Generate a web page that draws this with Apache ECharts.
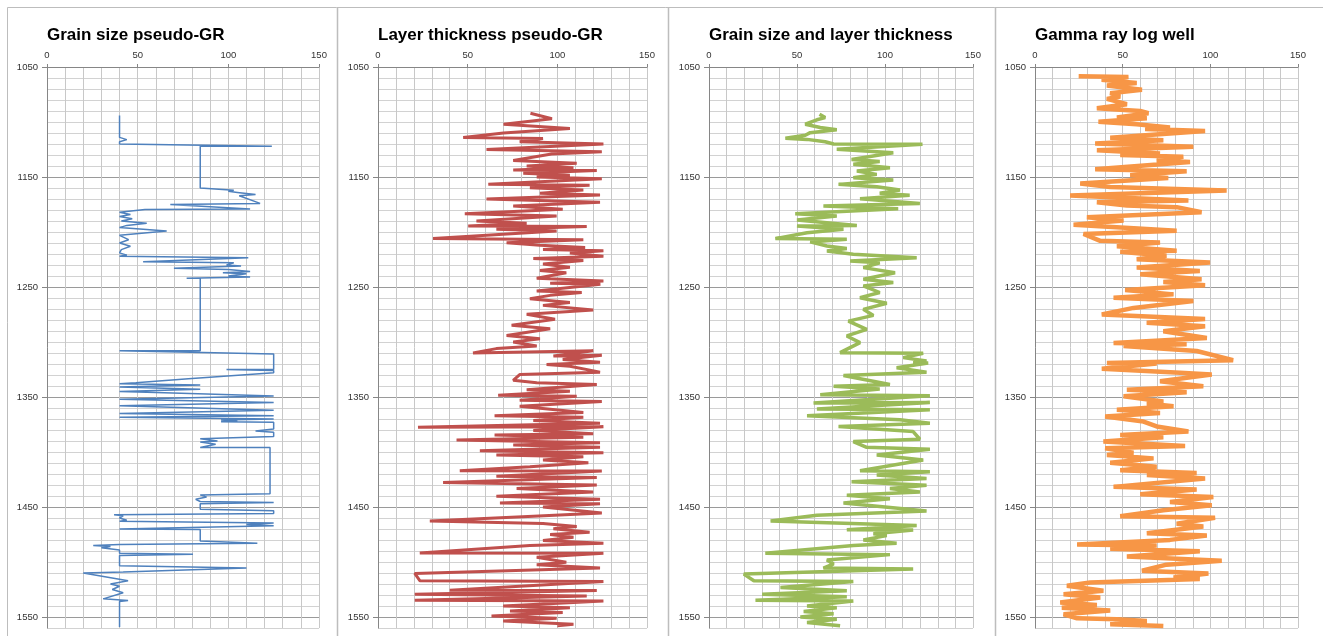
<!DOCTYPE html>
<html><head><meta charset="utf-8">
<script src="https://cdn.jsdelivr.net/npm/echarts@6/dist/echarts.min.js"></script>
<style>html,body{margin:0;padding:0;background:#fff}#c{width:1323px;height:636px}</style>
</head><body><div id="c"></div>
<script>
const panelTitles = ['Grain size pseudo-GR', 'Layer thickness pseudo-GR', 'Grain size and layer thickness', 'Gamma ray log well'];
const xTickLabels = [0, 50, 100, 150];
const depthTickLabels = [1050, 1150, 1250, 1350, 1450, 1550];

// [value, depth]
const grainSizeGR = [
[40,1094],[40,1114],[44,1116],[40,1118],[40,1120],[124,1122],[84.5,1122],[84.5,1160],[103,1162],[100,1163],[105,1164],[115,1166],[106,1167],[117.5,1174],[68,1175],[112,1179],[54,1179.5],[40,1182],[46,1184],[40,1186],[47,1188],[41,1190],[55,1192],[44,1194],[40,1196],[66,1199],[40,1203],[45,1207],[40,1210],[46,1213],[41,1216],[40,1219],[44,1221],[40,1222],[111,1223.5],[53,1227],[103,1228],[99,1230],[107,1231],[70,1233],[100,1234],[112,1236],[97,1237],[110,1238],[100,1240],[112,1241],[77,1242],[84.5,1242],[84.5,1308],[40,1308],[125,1311],[125,1325],[99,1325],[125,1326],[125,1328],[78,1333.5],[49,1337],[40,1338],[84.5,1339],[40,1341],[84.5,1343],[40,1345],[60,1346],[125,1349],[40,1352],[125,1355],[40,1358],[125,1362],[40,1365],[125,1367],[40,1368.5],[125,1370],[96,1371],[105,1372],[96,1372.5],[125,1373],[125,1379],[115,1381],[125,1382],[125,1386],[84.5,1388],[94,1390],[84.5,1391],[93,1393],[84.5,1396],[123,1396],[123,1438],[84.5,1439],[88,1441],[82,1443],[84.5,1445],[125,1446],[84.5,1447],[84.5,1452],[125,1453.5],[125,1456],[37,1457],[42,1458],[40,1460],[44,1462],[40,1463],[125,1464.5],[110,1466],[125,1467],[40,1470],[84.5,1470.5],[84.5,1481],[116,1483],[40,1484],[25.5,1485],[35,1486],[30,1487],[40,1489],[40,1492],[80.5,1493],[40,1494],[40,1503.5],[110,1505.5],[42,1509],[20,1510],[44.7,1517],[35,1520],[40,1522],[36,1525],[42,1528],[31,1533.5],[44.7,1535],[40,1536],[40,1559]
];
const layerThicknessGR = [
[85,1092],[97,1097],[70,1102],[107,1106],[70,1110],[47.5,1114],[92,1115],[79,1118],[125.7,1120],[60.5,1125],[124.8,1127],[96.8,1129],[75.4,1135],[110.8,1137.6],[82.9,1140],[109,1141.5],[75.4,1143.6],[122,1144],[81,1146.7],[107,1148.5],[88.5,1150],[124.8,1151.5],[61.5,1156.7],[118,1157.6],[84.7,1159.7],[114.5,1161.8],[90.3,1164.8],[123.8,1166.4],[60.5,1170],[123.8,1173],[75.4,1176.4],[103,1179.4],[48.4,1183.3],[99.6,1185.5],[54.9,1190],[82.9,1192],[50.3,1194.5],[116.4,1195],[66,1197.6],[99.6,1199],[30.7,1206],[114.5,1207],[71.7,1209.7],[90.3,1212],[115.5,1214],[92,1216],[125.7,1217],[107,1219],[125.7,1222],[86.6,1224],[114.5,1226],[92,1229],[107,1232],[90.3,1235],[105,1237],[88.5,1242],[125.7,1244.5],[96,1246.7],[124,1247.5],[88.5,1253.6],[113.6,1255],[96,1257.6],[84.7,1260.6],[107,1264],[92,1266.7],[120,1271],[82.9,1274.8],[98.7,1279.4],[74.5,1284.8],[96,1287.9],[71.7,1294],[90.3,1297],[75.4,1300],[88.5,1303.6],[66,1306],[53,1310],[120,1308],[97.8,1312.7],[124.8,1312],[103,1316],[123.8,1318.3],[94,1320.4],[107,1322],[123.8,1327.4],[79,1329.6],[75.4,1334.8],[88.5,1337],[122,1338.7],[82.9,1343.3],[107,1344.8],[67,1348.5],[110.8,1349.4],[79,1353],[124.8,1354],[79,1358.5],[114.5,1364],[65,1367],[114.5,1368.3],[86.6,1371.3],[123.8,1373.8],[22.3,1377.4],[125.7,1377],[86.6,1380.5],[120,1383.5],[65,1384.5],[114.5,1386.6],[43.8,1389],[123.8,1391.5],[75.4,1393.6],[123.8,1395.7],[56.8,1398.8],[125.7,1400.6],[66,1402.7],[114.5,1404.3],[92,1407.3],[117.3,1409.8],[84.7,1413.4],[45.6,1417],[124.8,1417.3],[66,1422],[122,1423.2],[36.3,1427.7],[122,1430],[77.3,1433.2],[120,1436.3],[66,1440.2],[123.8,1443],[68,1446.3],[123.8,1447],[92,1450],[124.8,1455.5],[86.6,1458.5],[28.9,1462.8],[92,1465],[110.8,1467.7],[97.8,1469.8],[118,1472.9],[96,1475],[109,1477.4],[92,1480.5],[125.7,1483],[84.7,1485],[23.3,1491.8],[125.7,1492],[88.5,1495.7],[105,1500.3],[88.5,1502.4],[123.8,1505.5],[20.5,1510.4],[23.3,1517],[125.7,1517.7],[40,1525.6],[122,1525.8],[20.5,1529.3],[116.4,1530.8],[20.5,1534.8],[125.7,1535.4],[69.8,1540],[107,1541.5],[73.6,1544.5],[103,1546],[63.3,1549],[99.6,1551.2],[69.8,1553.7],[109,1556.7],[100,1558]
];
const grainAndLayerGR = [
[62.8,1093],[66,1096],[61.3,1098],[54.7,1102],[63.2,1105],[72.6,1107],[57.5,1109.7],[54.7,1112],[43.4,1114.8],[55.7,1115.8],[66,1118],[70.8,1120],[121.3,1120.3],[72.6,1124.8],[104.7,1128],[81,1134],[97,1136],[82,1138.5],[102.8,1141.5],[84,1144.5],[95.3,1147.6],[82,1150.6],[104.7,1152.7],[73.6,1156.7],[95.3,1158.8],[108.5,1161.8],[97,1164.8],[114,1166.7],[85.8,1169.7],[119.8,1174],[65,1176.4],[107.5,1178.8],[49,1183.3],[72.6,1185.5],[50,1189],[84,1194],[50,1194.5],[76.4,1197.6],[55.7,1200.6],[37.7,1206],[78.3,1206.7],[57.5,1209],[67,1212.7],[78.3,1215],[67,1217.3],[82,1220.3],[118,1223.3],[80.2,1226.4],[97,1228],[87.7,1232.4],[105.7,1237],[87.7,1243],[104.7,1246],[87.7,1249],[97,1255],[85.8,1259.7],[101,1264.8],[87.7,1270.3],[93.4,1275.8],[79.2,1281],[89.6,1288.5],[78.3,1294.5],[85.8,1300.6],[74.5,1309.7],[121.7,1310.3],[110.4,1314.2],[123.6,1317.3],[116,1318],[124.5,1319],[106.6,1323.5],[123.6,1327.4],[76.4,1330.5],[102.8,1338.7],[70.8,1340.2],[97,1342.7],[63.2,1347.9],[125.5,1348.8],[59.4,1355.5],[125.5,1355],[61.3,1361],[125.5,1361.6],[55.7,1367],[108.5,1370.7],[125.5,1373.8],[73.6,1376.8],[116,1381.4],[119.8,1388.4],[82,1390.5],[89.6,1395.7],[125.5,1397.6],[95.3,1402.7],[121.7,1407.3],[85.8,1417],[125.5,1418],[95.3,1421],[123.6,1424],[81,1427.1],[123.6,1430.2],[102.8,1433.2],[119.8,1436.3],[78.3,1439.3],[102.8,1442.4],[76.4,1446.3],[123.6,1453.7],[61.3,1457.6],[35,1462.8],[118,1466.8],[78.3,1470.7],[116,1471],[93.4,1474.4],[101,1476],[87.7,1479.9],[106.6,1483],[82,1485],[32,1492],[102.8,1493.3],[67,1498.2],[70.8,1501.8],[65,1505.5],[116,1506.4],[19.8,1511],[25.5,1517],[82,1517.7],[40.6,1523.2],[78.3,1526.2],[30.2,1529.3],[78.3,1531.7],[26.4,1534.8],[82,1535.4],[55.7,1540],[72.6,1541.5],[53.8,1545],[70.8,1547],[51.9,1550],[72.6,1552],[55.7,1555],[74.5,1558]
];
const gammaRayLog = [
[24.9,1058.5],[53.3,1059],[38,1061.6],[58,1064.6],[41,1066.8],[61,1070.7],[42.9,1073.8],[48.6,1076.8],[41,1079],[52.4,1083.8],[35.3,1087.5],[60,1090],[64.7,1092],[46.7,1096],[63.8,1096.6],[36.2,1099.7],[58,1102],[77,1105],[62.8,1106.4],[97,1108.2],[42.9,1114.3],[73.2,1116.5],[34.3,1119.5],[90.3,1122.6],[35.3,1125.6],[71.3,1128.7],[48.6,1130],[84.6,1131.7],[69.4,1134.8],[88.4,1136.3],[34.3,1143],[86.5,1144.8],[54.3,1148.5],[76,1151],[25.8,1156],[42.9,1159],[109.3,1162.2],[20,1166.8],[87.5,1171.3],[35.3,1173],[52.4,1176],[80.8,1177.4],[95,1182],[29.6,1186.6],[50.5,1189.6],[22,1193.3],[80.8,1198.8],[27.7,1201.8],[37.2,1208],[71.3,1209.5],[46.7,1213],[80.8,1217],[48.6,1218],[75,1221.6],[58,1224.7],[99.8,1227.7],[58,1232.3],[94,1235.4],[60,1238.4],[95,1243],[73.2,1245.4],[97,1248.5],[51.4,1252.7],[79,1256.7],[44.8,1259.8],[90.3,1262.8],[56.2,1269],[38.1,1275],[97,1279],[63.7,1282.6],[97,1285.7],[73.2,1290.2],[98,1296.3],[44.8,1301],[86.5,1302],[50.5,1303.7],[92.2,1308.2],[113,1316.5],[41,1319],[69.4,1319.5],[38.1,1324.4],[82.7,1328],[100.8,1329.6],[71.3,1335.7],[96,1340.2],[52.4,1343.3],[86.5,1345.7],[50.5,1349.4],[73.2,1354],[63.8,1356],[79,1358.5],[46.7,1361.6],[71.3,1364.6],[40,1367.7],[61.9,1372.3],[69.4,1376.8],[87.5,1381.4],[48.6,1384.5],[73.2,1386.6],[39,1390.5],[85.6,1394.5],[40,1396.6],[56.2,1400.6],[41,1402.7],[67.6,1405.8],[42.9,1409.8],[69.4,1413.4],[48.6,1416.5],[92.2,1419],[63.8,1421],[97,1424],[44.8,1431.7],[92.2,1434.1],[60,1438.4],[101.7,1440.9],[77,1445.4],[100.8,1448.5],[73.2,1453],[48.6,1458.5],[102.7,1459.8],[80.8,1465.2],[96,1467.7],[63.8,1473.8],[98,1475.9],[77,1479.9],[24,1484.1],[69.4,1485],[42.9,1488],[94,1490.2],[52.4,1495],[106.5,1498.8],[75,1502.4],[61,1508],[98.9,1510.4],[79,1514],[94,1515.5],[31.5,1518.6],[18.2,1521.6],[39,1526.2],[16.3,1529.3],[37.2,1532.3],[14.4,1536.9],[35.3,1539],[15.3,1541.5],[42.9,1544],[16.3,1547.6],[24,1551.2],[46.7,1552],[63.8,1553.7],[42.9,1556.7],[73.2,1558.2]
];

const FONT = 'Liberation Sans';
const plain = v => String(v);
const panels = [
  {left: 47, width: 272, color: '#4F81BD', lw: 1.5, data: grainSizeGR},
  {left: 378, width: 269, color: '#C0504D', lw: 3, data: layerThicknessGR},
  {left: 709, width: 264, color: '#9BBB59', lw: 3.5, data: grainAndLayerGR},
  {left: 1035, width: 263, color: '#F79646', lw: 4.5, data: gammaRayLog}
];
const grid = [], xAxis = [], yAxis = [], series = [], title = [];
panels.forEach((p, i) => {
  grid.push({left: p.left, top: 67, width: p.width, height: 561, containLabel: false});
  title.push({text: panelTitles[i], left: p.left, top: 27, padding: 0,
    textStyle: {fontFamily: FONT, fontWeight: 'bold', fontSize: 17, color: '#000'}});
  xAxis.push({type: 'value', gridIndex: i, position: 'top', min: 0, max: 150, interval: 10,
    axisLabel: {show: false}, axisTick: {show: false},
    axisLine: {show: true, lineStyle: {color: '#868686'}},
    splitLine: {show: true, lineStyle: {color: '#c8c8c8', width: 1}}});
  xAxis.push({type: 'value', gridIndex: i, position: 'top', min: 0, max: 150, interval: 50,
    axisLabel: {show: true, customValues: xTickLabels, formatter: plain, fontFamily: FONT, fontSize: 9.5, color: '#333', margin: 7},
    axisTick: {show: true, customValues: xTickLabels, length: 3, lineStyle: {color: '#868686'}},
    axisLine: {show: false}, splitLine: {show: false}});
  yAxis.push({type: 'value', gridIndex: i, position: 'left', inverse: true, min: 1050, max: 1560, interval: 10,
    axisLabel: {show: false}, axisTick: {show: false},
    axisLine: {show: true, lineStyle: {color: '#868686'}},
    splitLine: {show: true, lineStyle: {color: '#d2d2d2', width: 1}}});
  yAxis.push({type: 'value', gridIndex: i, position: 'left', inverse: true, min: 1050, max: 1560, interval: 100,
    axisLabel: {show: true, customValues: depthTickLabels, formatter: plain, fontFamily: FONT, fontSize: 9.5, color: '#333', margin: 9},
    axisTick: {show: true, customValues: depthTickLabels, length: 5, lineStyle: {color: '#868686'}},
    axisLine: {show: false},
    splitLine: {show: true, lineStyle: {color: '#9a9a9a', width: 1}}});
  series.push({type: 'line', xAxisIndex: 2 * i, yAxisIndex: 2 * i, data: p.data,
    symbol: 'none', showSymbol: false, lineStyle: {color: p.color, width: p.lw},
    itemStyle: {color: p.color}, z: 5});
});
const chart = echarts.init(document.getElementById('c'), null, {renderer: 'canvas'});
chart.setOption({
  animation: false,
  backgroundColor: '#fff',
  title, grid, xAxis, yAxis, series,
  graphic: [
    {type: 'rect', shape: {x: 7.5, y: 7.5, width: 1330, height: 640}, style: {fill: 'none', stroke: '#bdbdbd', lineWidth: 1}, silent: true},
    {type: 'line', shape: {x1: 337.5, y1: 7.5, x2: 337.5, y2: 640}, style: {stroke: '#bdbdbd', lineWidth: 1.5}, silent: true},
    {type: 'line', shape: {x1: 668.5, y1: 7.5, x2: 668.5, y2: 640}, style: {stroke: '#bdbdbd', lineWidth: 1.5}, silent: true},
    {type: 'line', shape: {x1: 995.5, y1: 7.5, x2: 995.5, y2: 640}, style: {stroke: '#bdbdbd', lineWidth: 1.5}, silent: true}
  ]
});
</script></body></html>
